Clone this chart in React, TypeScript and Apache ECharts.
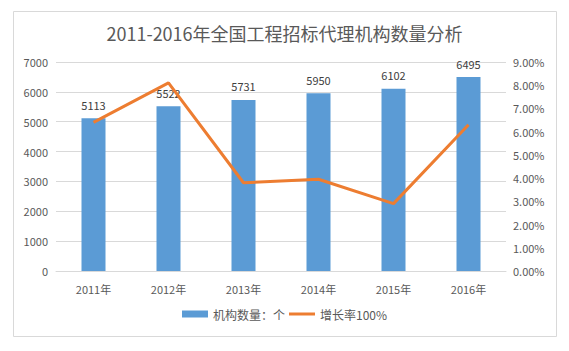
import React, { useEffect, useRef } from "react";
import * as echarts from "echarts";

const categories = ["2011年", "2012年", "2013年", "2014年", "2015年", "2016年"];
const counts = [5113, 5522, 5731, 5950, 6102, 6495];
const growth = [6.4, 8.1, 3.8, 3.95, 2.9, 6.3];
const leftTicks = { min: 0, max: 7000, interval: 1000 };
const rightTicks = { min: 0, max: 9, interval: 1 };

const FONT = "'Microsoft YaHei', 'Noto Sans CJK SC', 'Noto Sans', sans-serif";

export default function App() {
  const ref = useRef<HTMLDivElement>(null);
  useEffect(() => {
    if (!ref.current) return;
    const chart = echarts.init(ref.current, undefined, { renderer: "svg" });
    chart.setOption({
      animation: false,
      backgroundColor: "#ffffff",
      textStyle: { fontFamily: FONT },
      graphic: [
        {
          type: "rect",
          shape: { x: 13.5, y: 11.5, width: 543, height: 325 },
          style: { fill: "none", stroke: "#d9d9d9", lineWidth: 1 },
          silent: true,
        },
      ],
      title: {
        text: "2011-2016年全国工程招标代理机构数量分析",
        left: "center",
        top: 19,
        textStyle: { fontSize: 18, fontWeight: "normal", color: "#595959", fontFamily: FONT },
      },
      legend: {
        bottom: 26,
        left: "center",
        itemWidth: 26,
        itemHeight: 7,
        itemGap: 4,
        textStyle: { fontSize: 12, color: "#595959", fontFamily: FONT },
        data: [
          { name: "机构数量：个", icon: "rect" },
          { name: "增长率100%", icon: "path://M0,0 M26,7 M0,2 L26,2 L26,5 L0,5 Z" },
        ],
      },
      grid: { left: 56, right: 63, top: 62, bottom: 80 },
      xAxis: {
        type: "category",
        data: categories,
        axisLine: { lineStyle: { color: "#d9d9d9" } },
        axisTick: { show: false },
        axisLabel: { color: "#595959", fontSize: 11, margin: 12, fontFamily: FONT },
      },
      yAxis: [
        {
          type: "value",
          min: leftTicks.min,
          max: leftTicks.max,
          interval: leftTicks.interval,
          axisLine: { show: false },
          axisTick: { show: false },
          splitLine: { lineStyle: { color: "#d9d9d9" } },
          axisLabel: {
            color: "#595959",
            fontSize: 11,
            margin: 8,
            fontFamily: FONT,
            formatter: (v: number) => String(v),
          },
        },
        {
          type: "value",
          min: rightTicks.min,
          max: rightTicks.max,
          interval: rightTicks.interval,
          axisLine: { show: false },
          axisTick: { show: false },
          splitLine: { show: false },
          axisLabel: {
            color: "#595959",
            fontSize: 11,
            margin: 7,
            fontFamily: FONT,
            formatter: (v: number) => v.toFixed(2) + "%",
          },
        },
      ],
      series: [
        {
          name: "机构数量：个",
          type: "bar",
          data: counts,
          barWidth: 24,
          itemStyle: { color: "#5b9bd5" },
          label: {
            show: true,
            position: "top",
            distance: 8,
            color: "#404040",
            fontSize: 11,
            fontFamily: FONT,
          },
        },
        {
          name: "增长率100%",
          type: "line",
          yAxisIndex: 1,
          data: growth,
          symbol: "none",
          lineStyle: { color: "#ed7d31", width: 3 },
          itemStyle: { color: "#ed7d31" },
        },
      ],
    });
    return () => chart.dispose();
  }, []);
  return (
    <div
      ref={ref}
      style={{ position: "fixed", left: 0, top: 0, width: 569, height: 351 }}
    />
  );
}
